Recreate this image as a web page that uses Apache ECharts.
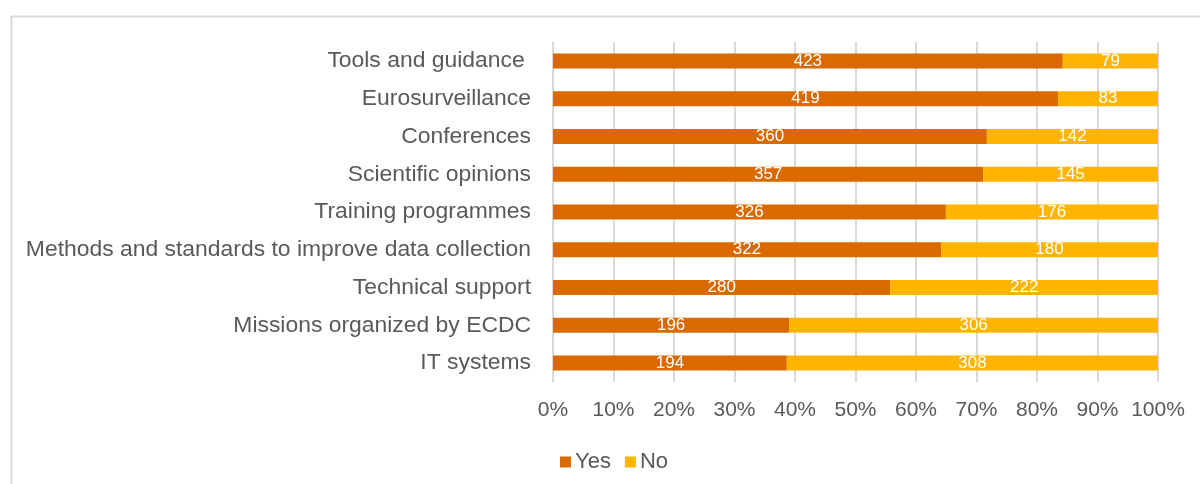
<!DOCTYPE html>
<html>
<head>
<meta charset="utf-8">
<script src="https://cdn.jsdelivr.net/npm/echarts@6/dist/echarts.min.js"></script>
<style>html,body{margin:0;padding:0;background:#fff;}#c{width:1200px;height:484px;}</style>
</head>
<body>
<div id="c"></div>
<script>
const categories = ["Tools and guidance ", "Eurosurveillance", "Conferences", "Scientific opinions", "Training programmes", "Methods and standards to improve data collection", "Technical support", "Missions organized by ECDC", "IT systems"];
const yesValues = [423, 419, 360, 357, 326, 322, 280, 196, 194];
const noValues = [79, 83, 142, 145, 176, 180, 222, 306, 308];
const seriesNames = ["Yes", "No"];

const cats = categories.slice().reverse();
const yesR = yesValues.slice().reverse();
const noR = noValues.slice().reverse();
function pct(arr, i) { return arr[i] / (yesR[i] + noR[i]) * 100; }
const yesData = yesR.map((v, i) => ({ value: pct(yesR, i), raw: v }));
const noData = noR.map((v, i) => ({ value: pct(noR, i), raw: v }));

const chart = echarts.init(document.getElementById('c'), null, { renderer: 'canvas' });
const labelCfg = {
  show: true, position: 'inside', color: '#ffffff', fontSize: 17,
  fontFamily: 'Liberation Sans, Arial, sans-serif',
  formatter: p => p.data.raw
};
chart.setOption({
  animation: false,
  backgroundColor: '#ffffff',
  graphic: [{
    type: 'rect', left: 9, top: 14, silent: true,
    shape: { width: 1400, height: 700 },
    style: { fill: 'none', stroke: '#d9d9d9', lineWidth: 2 }
  }],
  grid: { left: 553, right: 42, top: 42, bottom: 102 },
  legend: {
    left: 555, top: 446, itemWidth: 11, itemHeight: 11, itemGap: 14,
    icon: 'rect',
    textStyle: { color: '#595959', fontSize: 22, fontFamily: 'Liberation Sans, Arial, sans-serif', padding: [0, 0, 0, -1] },
    data: seriesNames
  },
  xAxis: {
    type: 'value', min: 0, max: 100, interval: 10,
    axisLine: { show: false }, axisTick: { show: false },
    splitLine: { show: true, lineStyle: { color: '#d9d9d9', width: 2 } },
    axisLabel: { formatter: '{value}%', color: '#595959', fontSize: 21, margin: 18, fontFamily: 'Liberation Sans, Arial, sans-serif' }
  },
  yAxis: {
    type: 'category', data: cats,
    axisLine: { show: false }, axisTick: { show: false },
    axisLabel: { color: '#595959', fontSize: 22.9, margin: 22, fontFamily: 'Liberation Sans, Arial, sans-serif' }
  },
  series: [
    { name: seriesNames[0], type: 'bar', stack: 's', barWidth: 15, data: yesData, itemStyle: { color: '#DA6A00' }, label: labelCfg },
    { name: seriesNames[1], type: 'bar', stack: 's', barWidth: 15, data: noData, itemStyle: { color: '#FFB400' }, label: labelCfg }
  ]
});
</script>
</body>
</html>
